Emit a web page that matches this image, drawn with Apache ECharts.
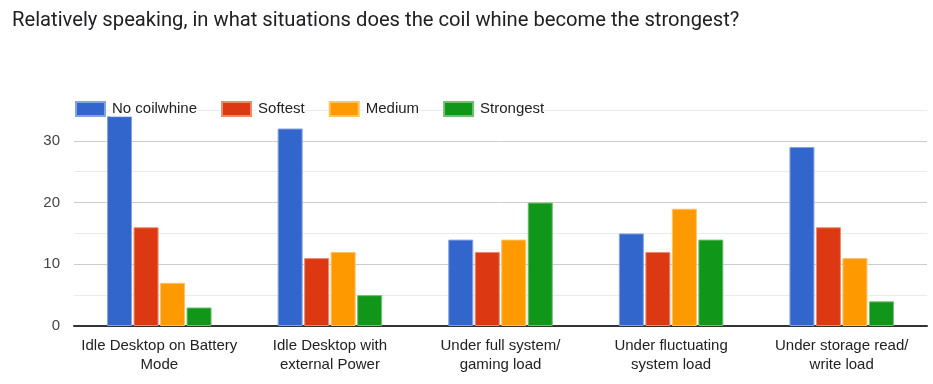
<!DOCTYPE html>
<html>
<head>
<meta charset="utf-8">
<script src="https://cdn.jsdelivr.net/npm/echarts@6/dist/echarts.min.js"></script>
<style>html,body{margin:0;padding:0;background:#fff}#c{width:933px;height:384px}</style>
</head>
<body>
<div id="c"></div>
<script>
const titleText = 'Relatively speaking, in what situations does the coil whine become the strongest?';
const categories = ['Idle Desktop on Battery\nMode', 'Idle Desktop with\nexternal Power', 'Under full system/\ngaming load', 'Under fluctuating\nsystem load', 'Under storage read/\nwrite load'];
const seriesNames = ['No coilwhine', 'Softest', 'Medium', 'Strongest'];
const noCoilwhine = [34, 32, 14, 15, 29];
const softest = [16, 11, 12, 12, 16];
const medium = [7, 12, 14, 19, 11];
const strongest = [3, 5, 20, 14, 4];
const yTicks = [0, 10, 20, 30];

const values = [noCoilwhine, softest, medium, strongest];
const colors = ['#3366cc', '#dc3912', '#ff9900', '#109618'];
const borders = ['#85a3e0', '#ea8b71', '#ffc266', '#70c074'];

const chart = echarts.init(document.getElementById('c'), null, {renderer: 'canvas'});
chart.setOption({
  animation: false,
  title: {
    text: titleText, left: 12, top: 11, padding: 0,
    textStyle: {fontFamily: 'Roboto', fontSize: 20.2, fontWeight: 'normal', color: '#202124'}
  },
  legend: {
    data: seriesNames, left: 75, top: 101, padding: 0, icon: 'rect', itemWidth: 29, itemHeight: 14, itemGap: 24,
    textStyle: {fontFamily: 'Liberation Sans, Arial', fontSize: 15, color: '#222', backgroundColor: '#fff', padding: [0, 0, 0, 2]}
  },
  grid: {left: 74, right: 6, top: 110, bottom: 58},
  xAxis: {
    type: 'category', data: categories,
    axisLine: {lineStyle: {color: '#333', width: 2}},
    axisTick: {show: false},
    axisLabel: {fontFamily: 'Liberation Sans, Arial', fontSize: 15, color: '#222', lineHeight: 19, margin: 10, interval: 0}
  },
  yAxis: {
    type: 'value', min: 0, max: 35, interval: 5,
    axisLine: {show: false}, axisTick: {show: false},
    axisLabel: {
      fontFamily: 'Liberation Sans, Arial', fontSize: 15, color: '#444', margin: 14,
      formatter: v => yTicks.includes(v) ? String(v) : ''
    },
    splitLine: {lineStyle: {color: ['#cccccc', '#ebebeb'], width: 1}}
  },
  series: values.map((d, i) => ({
    name: seriesNames[i], type: 'bar', data: d,
    barWidth: 25, barGap: '6%',
    itemStyle: {color: colors[i], borderColor: borders[i], borderWidth: 1}
  }))
});
</script>
</body>
</html>
